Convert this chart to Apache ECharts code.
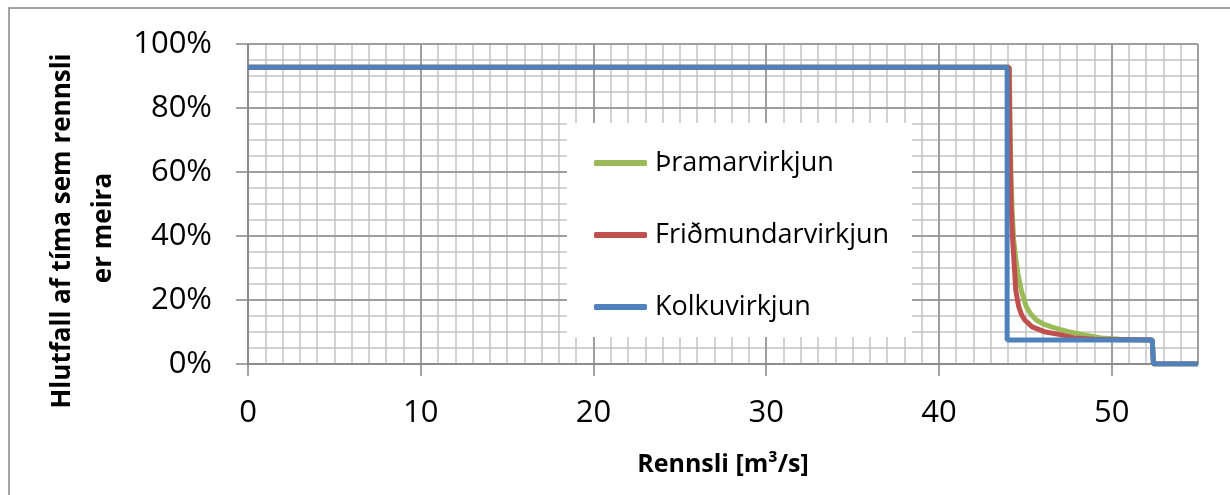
<!DOCTYPE html>
<html>
<head>
<meta charset="utf-8">
<script src="https://cdn.jsdelivr.net/npm/echarts@6/dist/echarts.min.js"></script>
<style>html,body{margin:0;padding:0;background:#fff}#c{width:1230px;height:495px}</style>
</head>
<body>
<div id="c"></div>
<script>
// ---- data ----
const seriesNames = ['Þramarvirkjun', 'Friðmundarvirkjun', 'Kolkuvirkjun'];
const thramarData = [[0,92.7],[44.08,92.7],[44.12,75],[44.17,60],[44.24,48],[44.33,38.75],[44.45,33],[44.57,28.4],[44.77,23],[45.06,17.9],[45.35,15.4],[45.64,13.75],[46.05,12.5],[46.5,11.6],[47.0,10.8],[47.5,10.1],[48.4,9.1],[49.4,8.1],[50.5,7.7],[52.35,7.5],[52.42,0],[55,0]];
const fridmundarData = [[0,92.7],[44.06,92.7],[44.1,75],[44.14,60],[44.19,48],[44.27,38.75],[44.39,28.4],[44.45,23],[44.62,17.9],[44.78,15.5],[44.97,13.75],[45.4,11.6],[46.1,10.1],[47.1,9.1],[47.9,8.1],[49.0,7.7],[52.35,7.5],[52.42,0],[55,0]];
const kolkuData = [[0,92.7],[43.95,92.7],[43.95,7.5],[52.35,7.5],[52.42,0],[55,0]];
const xMajorInterval = 10;
const xMinorInterval = 1;
const yMajorInterval = 20;
const yMinorInterval = 5;
const yTitleLines = ['Hlutfall af tíma sem rennsli', 'er meira'];
const xTitle = 'Rennsli [m³/s]';

const FONT = '"Open Sans", "Liberation Sans", sans-serif';
const chart = echarts.init(document.getElementById('c'), null, {renderer: 'canvas'});
const majorColor = '#8e8e8e', minorColor = '#c4c4c4';

chart.setOption({
  animation: false,
  textStyle: {fontFamily: FONT},
  color: ['#9bbb59', '#c0504d', '#4f81bd'],
  grid: {left: 248, right: 32, top: 44, bottom: 131, containLabel: false},
  xAxis: [
    {
      type: 'value', min: 0, max: 55, interval: xMajorInterval, z: 1,
      axisLine: {show: true, onZero: false, lineStyle: {color: '#868686', width: 1.5}},
      axisTick: {show: true, length: 12, lineStyle: {color: '#868686', width: 1.5}},
      axisLabel: {fontSize: 31, color: '#000', margin: 34, lineHeight: 30, showMaxLabel: false},
      splitLine: {show: true, lineStyle: {color: majorColor, width: 1.5}},
      name: xTitle, nameLocation: 'middle', nameGap: 86,
      nameTextStyle: {fontSize: 25, fontWeight: 'bold', color: '#000', lineHeight: 30}
    },
    {
      type: 'value', min: 0, max: 55, interval: xMinorInterval, position: 'bottom', z: 0,
      axisLine: {show: false}, axisTick: {show: false}, axisLabel: {show: false},
      splitLine: {show: true, lineStyle: {color: minorColor, width: 1.5}}
    }
  ],
  yAxis: [
    {
      type: 'value', min: 0, max: 100, interval: yMajorInterval, z: 1,
      axisLine: {show: true, lineStyle: {color: '#868686', width: 1.5}},
      axisTick: {show: true, length: 12, lineStyle: {color: '#868686', width: 1.5}},
      axisLabel: {formatter: '{value}%', fontSize: 31, color: '#000', margin: 36},
      splitLine: {show: true, lineStyle: {color: majorColor, width: 1.5}}
    },
    {
      type: 'value', min: 0, max: 100, interval: yMinorInterval, z: 0,
      axisLine: {show: false}, axisTick: {show: false}, axisLabel: {show: false},
      splitLine: {show: true, lineStyle: {color: minorColor, width: 1.5}}
    }
  ],
  legend: {
    orient: 'vertical', left: 589, top: 143, z: 5,
    itemWidth: 53, itemHeight: 6, icon: 'roundRect', itemGap: 42,
    selectedMode: false,
    textStyle: {fontSize: 27, lineHeight: 30, color: '#000', padding: [0, 0, 0, 3]},
    data: seriesNames
  },
  graphic: [
    {type: 'rect', z: 3, shape: {x: 9, y: 8, width: 1400, height: 700}, style: {fill: 'none', stroke: '#868686', lineWidth: 1.5}},
    {type: 'rect', z: 3, shape: {x: 567, y: 123, width: 345, height: 214}, style: {fill: '#fff'}},
    {type: 'text', z: 3, x: 63, y: 231, rotation: Math.PI / 2,
     style: {text: yTitleLines[0], fontSize: 26, fontWeight: 'bold', fontFamily: FONT, fill: '#000', align: 'center', verticalAlign: 'middle'}},
    {type: 'text', z: 3, x: 104, y: 228, rotation: Math.PI / 2,
     style: {text: yTitleLines[1], fontSize: 26, fontWeight: 'bold', fontFamily: FONT, fill: '#000', align: 'center', verticalAlign: 'middle'}}
  ],
  series: [
    {name: seriesNames[0], type: 'line', data: thramarData, showSymbol: false, symbol: 'none', z: 2, lineStyle: {width: 5, color: '#9bbb59'}},
    {name: seriesNames[1], type: 'line', data: fridmundarData, showSymbol: false, symbol: 'none', z: 2, lineStyle: {width: 5, color: '#c0504d'}},
    {name: seriesNames[2], type: 'line', data: kolkuData, showSymbol: false, symbol: 'none', z: 2, lineStyle: {width: 5, color: '#4f81bd'}}
  ]
});
</script>
</body>
</html>
